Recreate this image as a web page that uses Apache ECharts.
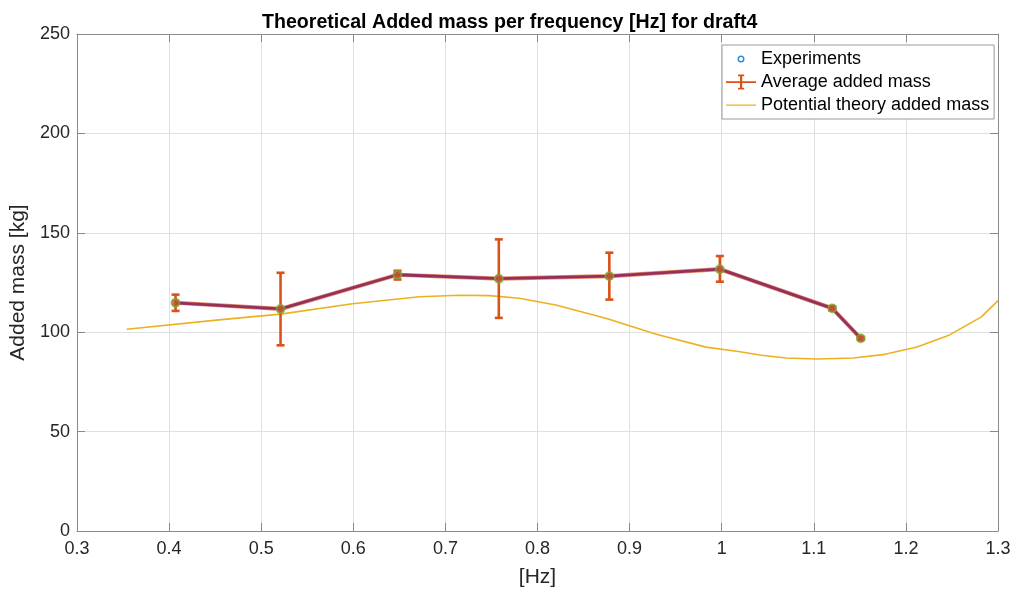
<!DOCTYPE html>
<html>
<head>
<meta charset="utf-8">
<script src="https://cdn.jsdelivr.net/npm/echarts@6/dist/echarts.min.js"></script>
<style>
html,body{margin:0;padding:0;background:#fff;}
#chart{width:1017px;height:594px;}
</style>
</head>
<body>
<div id="chart"></div>
<script>
// ---- data ----
var expFreq = [0.407, 0.521, 0.648, 0.758, 0.878, 0.998, 1.120, 1.151];
var expMean = [114.8, 111.7, 128.9, 126.9, 128.2, 131.7, 112.0, 96.9];
var expLow  = [110.7, 93.4, 126.5, 107.2, 116.4, 125.4, 111.0, 96.2];
var expHigh = [118.9, 129.9, 130.9, 146.7, 140.0, 138.3, 113.0, 97.6];

var theoryFreq = [0.354, 0.454, 0.521, 0.599, 0.672, 0.715, 0.748, 0.780, 0.820, 0.875, 0.929, 0.983, 1.020, 1.041, 1.070, 1.103, 1.143, 1.175, 1.212, 1.246, 1.282, 1.300];
var theoryMass = [101.5, 106.2, 109.1, 114.3, 117.8, 118.6, 118.4, 117.1, 113.7, 106.9, 99.0, 92.5, 90.2, 88.5, 87.0, 86.5, 87.0, 88.7, 92.6, 98.3, 107.7, 115.9];

var titleText = 'Theoretical Added mass per frequency [Hz] for draft4';
var xName = '[Hz]';
var yName = 'Added mass [kg]';
var seriesNames = ['Experiments', 'Average added mass', 'Potential theory added mass'];

// ---- build ----
var FONT = '"Liberation Sans", Arial, Helvetica, sans-serif';
var meanPts = expFreq.map(function (f, i) { return [f, expMean[i]]; });
var errPts = expFreq.map(function (f, i) { return [f, expLow[i], expHigh[i]]; });
var theoryPts = theoryFreq.map(function (f, i) { return [f, theoryMass[i]]; });

var axisGray = '#8a8a8a';
var gridGray = '#e0e0e0';

var chart = echarts.init(document.getElementById('chart'), null, {renderer: 'canvas'});
chart.setOption({
  animation: false,
  backgroundColor: '#fff',
  textStyle: {fontFamily: FONT},
  title: {
    text: titleText,
    left: 257, top: 8,
    textStyle: {fontFamily: FONT, fontSize: 19.6, fontWeight: 'bold', color: '#000'}
  },
  grid: {left: 77, right: 19, top: 34, bottom: 63, containLabel: false},
  legend: {
    orient: 'vertical',
    left: 722, top: 45,
    padding: [4, 5, 4, 4],
    itemGap: 3,
    itemWidth: 30, itemHeight: 16,
    itemTextGap: 3,
    backgroundColor: '#fff',
    borderColor: '#9a9a9a', borderWidth: 1,
    textStyle: {fontFamily: FONT, fontSize: 18, color: '#000', lineHeight: 20},
    data: [
      {name: seriesNames[0],
       icon: 'path://M0,0h0.01v0.01h-0.01zM18.5,8A3.5,3.5,0,1,0,11.5,8A3.5,3.5,0,1,0,18.5,8ZM17,8A2,2,0,1,1,13,8A2,2,0,1,1,17,8ZM29.99,15.99h0.01v0.01h-0.01z',
       itemStyle: {color: '#0072BD', borderWidth: 0}},
      {name: seriesNames[1],
       icon: 'path://M0,0h0.01v0.01h-0.01zM0,7.2h30v1.7h-30zM14,1h2.2v14h-2.2zM12,0.5h6.2v1.8h-6.2zM12,13.8h6.2v1.8h-6.2zM29.99,15.99h0.01v0.01h-0.01z',
       itemStyle: {color: '#D95319', borderWidth: 0}},
      {name: seriesNames[2],
       icon: 'path://M0,0h0.01v0.01h-0.01zM0,7.4h30v1.3h-30zM29.99,15.99h0.01v0.01h-0.01z',
       itemStyle: {color: '#EDB120', borderWidth: 0}}
    ]
  },
  xAxis: [{
    type: 'value', min: 0.3, max: 1.3, interval: 0.1,
    name: xName, nameLocation: 'middle', nameGap: 36,
    nameTextStyle: {fontFamily: FONT, fontSize: 21, color: '#262626'},
    axisLine: {show: true, onZero: false, lineStyle: {color: axisGray, width: 1}},
    axisTick: {show: true, inside: true, length: 8, lineStyle: {color: axisGray}},
    axisLabel: {fontFamily: FONT, fontSize: 18, color: '#262626', margin: 9,
      formatter: function (v) { return String(+v.toFixed(1)); }},
    splitLine: {show: true, lineStyle: {color: gridGray, width: 1}}
  }, {
    type: 'value', position: 'top', min: 0.3, max: 1.3, interval: 0.1,
    axisLine: {show: true, onZero: false, lineStyle: {color: axisGray, width: 1}},
    axisTick: {show: true, inside: true, length: 8, lineStyle: {color: axisGray}},
    axisLabel: {show: false}, splitLine: {show: false}
  }],
  yAxis: [{
    type: 'value', min: 0, max: 250, interval: 50,
    name: yName, nameLocation: 'middle', nameGap: 42, nameRotate: 90,
    nameTextStyle: {fontFamily: FONT, fontSize: 21, color: '#262626'},
    axisLine: {show: true, onZero: false, lineStyle: {color: axisGray, width: 1}},
    axisTick: {show: true, inside: true, length: 8, lineStyle: {color: axisGray}},
    axisLabel: {fontFamily: FONT, fontSize: 18, color: '#262626', margin: 7},
    splitLine: {show: true, lineStyle: {color: gridGray, width: 1}}
  }, {
    type: 'value', position: 'right', min: 0, max: 250, interval: 50,
    axisLine: {show: true, onZero: false, lineStyle: {color: axisGray, width: 1}},
    axisTick: {show: true, inside: true, length: 8, lineStyle: {color: axisGray}},
    axisLabel: {show: false}, splitLine: {show: false}
  }],
  series: [
    {
      name: seriesNames[2], type: 'line', data: theoryPts,
      showSymbol: false, symbol: 'none', smooth: false,
      lineStyle: {color: '#EDB120', width: 1.6},
      itemStyle: {color: '#EDB120'}, z: 2
    },
    {
      name: seriesNames[1], type: 'line', data: meanPts,
      showSymbol: false, symbol: 'none',
      lineStyle: {color: '#E88A6A', width: 4.2},
      itemStyle: {color: '#D95319'}, z: 3
    },
    {
      name: seriesNames[1], type: 'line', data: meanPts,
      showSymbol: false, symbol: 'none',
      lineStyle: {color: '#93305C', width: 2.8},
      itemStyle: {color: '#D95319'}, z: 4
    },
    {
      name: seriesNames[1], type: 'custom', data: errPts,
      itemStyle: {color: '#D95319'}, z: 5,
      renderItem: function (params, api) {
        var x = api.value(0);
        var lo = api.coord([x, api.value(1)]);
        var hi = api.coord([x, api.value(2)]);
        var cw = 4;
        var st = {stroke: '#D95319', lineWidth: 2.6, fill: null};
        return {
          type: 'group',
          children: [
            {type: 'line', shape: {x1: lo[0], y1: lo[1], x2: hi[0], y2: hi[1]}, style: st},
            {type: 'line', shape: {x1: hi[0] - cw, y1: hi[1], x2: hi[0] + cw, y2: hi[1]}, style: st},
            {type: 'line', shape: {x1: lo[0] - cw, y1: lo[1], x2: lo[0] + cw, y2: lo[1]}, style: st}
          ]
        };
      }
    },
    {
      name: seriesNames[0], type: 'scatter', data: meanPts,
      symbol: 'circle', symbolSize: 8,
      itemStyle: {color: '#C0503A', borderColor: '#77AC30', borderWidth: 1.8}, z: 6
    }
  ]
});
</script>
</body>
</html>
